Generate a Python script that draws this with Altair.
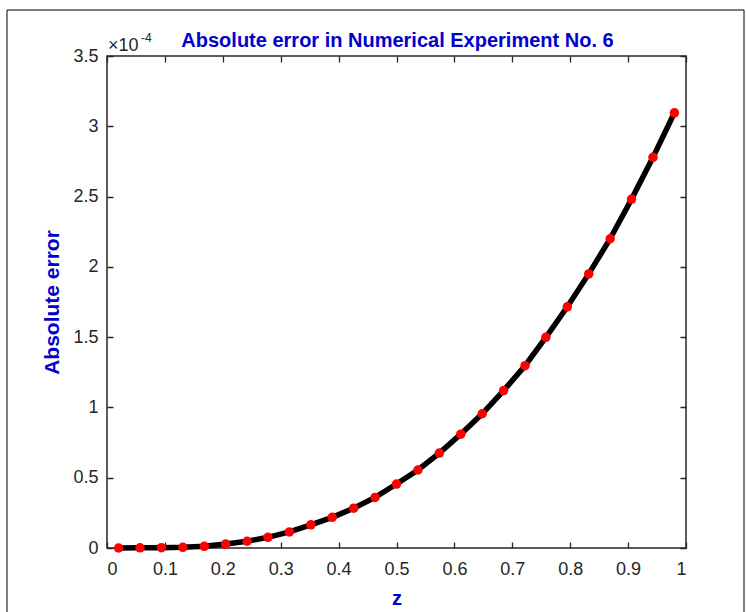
import altair as alt
import pandas as pd

# Collocation points z and absolute error (in units of 1e-4)
z_values = [0.020, 0.057, 0.094, 0.131, 0.168, 0.205, 0.242, 0.278, 0.315,
            0.352, 0.389, 0.426, 0.463, 0.500, 0.537, 0.574, 0.611, 0.648,
            0.685, 0.722, 0.758, 0.795, 0.832, 0.869, 0.906, 0.943, 0.980]
err_e4 = [0.000, 0.001, 0.002, 0.005, 0.012, 0.028, 0.048, 0.076, 0.114,
          0.165, 0.218, 0.283, 0.360, 0.455, 0.555, 0.675, 0.810, 0.955,
          1.120, 1.297, 1.499, 1.716, 1.950, 2.200, 2.482, 2.779, 3.096]
x_ticks = [0, 0.1, 0.2, 0.3, 0.4, 0.5, 0.6, 0.7, 0.8, 0.9, 1.0]
y_ticks_e4 = [0, 0.5, 1, 1.5, 2, 2.5, 3, 3.5]
title_text = "Absolute error in Numerical Experiment No. 6"

df = pd.DataFrame({"z": z_values, "err": [v * 1e-4 for v in err_e4]})

W, H = 579, 492
BLUE = "#0000CC"
FONT = "Liberation Sans"

x_enc = alt.X("z:Q", scale=alt.Scale(domain=[0, 1], nice=False, zero=False),
              axis=alt.Axis(values=x_ticks, title="z",
                            labelExpr="format(datum.value, '~g')",
                            grid=True, gridDash=[6, H - 12, 6, 2000],
                            gridColor="#262626", gridWidth=1.3, gridOpacity=1,
                            ticks=False, domain=False,
                            labelPadding=12, titlePadding=10))
y_enc = alt.Y("err:Q", scale=alt.Scale(domain=[0, 3.5e-4], nice=False),
              axis=alt.Axis(values=[v * 1e-4 for v in y_ticks_e4],
                            title="Absolute error", titleFontSize=21,
                            labelExpr="format(datum.value * 10000, '~g')",
                            grid=True, gridDash=[6, W - 12, 6, 2000],
                            gridColor="#262626", gridWidth=1.3, gridOpacity=1,
                            ticks=False, domain=False,
                            labelPadding=9, titlePadding=10))

base = alt.Chart(df)
line = base.mark_line(color="black", strokeWidth=5.5).encode(x=x_enc, y=y_enc)
pts = base.mark_circle(color="#FF0000", opacity=1, size=90).encode(x="z:Q", y="err:Q")

ann = alt.Chart(alt.Data(values=[{}]))
title_mark = ann.mark_text(text=title_text, align="center", baseline="alphabetic",
                           fontSize=20, fontWeight="bold", font=FONT,
                           color=BLUE).encode(x=alt.value(W / 2 + 1), y=alt.value(-9))
exp_base = ann.mark_text(text="×10", align="left", baseline="alphabetic",
                         fontSize=18, font=FONT, color="#262626").encode(
    x=alt.value(1), y=alt.value(-5))
exp_sup = ann.mark_text(text="-4", align="left", baseline="alphabetic",
                        fontSize=12, font=FONT, color="#262626").encode(
    x=alt.value(34), y=alt.value(-14))
# figure border (top, left and right edges of the figure window)
frame_top = ann.mark_rule(color="black", strokeWidth=1).encode(
    x=alt.value(-100), x2=alt.value(637), y=alt.value(-46))
frame_left = ann.mark_rule(color="black", strokeWidth=1).encode(
    x=alt.value(-100), y=alt.value(-46), y2=alt.value(560))
frame_right = ann.mark_rule(color="black", strokeWidth=1).encode(
    x=alt.value(637), y=alt.value(-46), y2=alt.value(560))

chart = alt.layer(line, pts, title_mark, exp_base, exp_sup,
                  frame_top, frame_left, frame_right).properties(
    width=W, height=H,
    autosize=alt.AutoSizeParams(type="none"),
    padding={"left": 107, "top": 56, "right": 60, "bottom": 64},
).configure(
    background="white"
).configure_view(
    stroke="#262626", strokeWidth=1.5
).configure_axis(
    labelFont=FONT, labelFontSize=18, labelColor="#262626",
    titleFont=FONT, titleFontSize=20, titleFontWeight="bold", titleColor=BLUE
)

chart.save("out.html", embed_options={"renderer": "svg", "actions": False})
